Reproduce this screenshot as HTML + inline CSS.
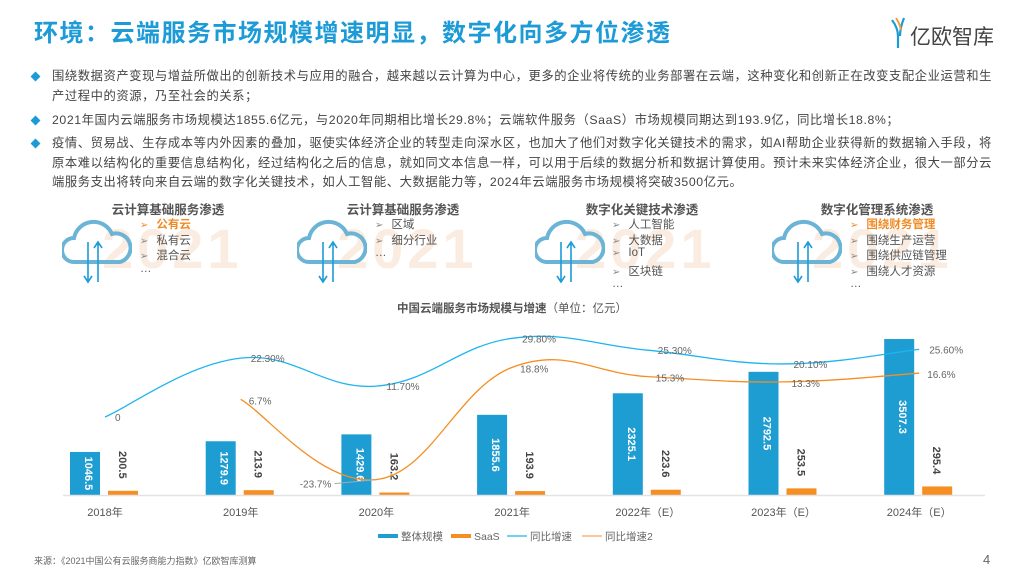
<!DOCTYPE html>
<html><head><meta charset="utf-8">
<style>
body{margin:0;width:1024px;height:576px;background:#fff;font-family:"Liberation Sans","Noto Sans CJK SC",sans-serif;overflow:hidden;position:relative}
.abs{position:absolute}
.title{left:34px;top:13px;font-size:24px;font-weight:bold;color:#1c9bd7;letter-spacing:1.5px}
.bul{left:36px;font-size:12.3px;color:#444;line-height:19.5px;width:966px;letter-spacing:0.58px}
.bul .d{position:absolute;left:-4px;top:6px;width:7px;height:7px;background:#1c9bd7;transform:rotate(45deg)}
.bul p{margin:0 0 0 16px}
.ptitle{font-size:12.5px;font-weight:bold;color:#555;transform:translateX(-50%);white-space:nowrap}
.item{font-size:11.5px;color:#555;white-space:nowrap}
.item b{font-weight:normal;color:#888;margin-right:8px;font-size:10px}
.wc{font-size:56px;font-weight:bold;color:#f3c9ab;opacity:.35;letter-spacing:4px}
</style></head><body>
<div class="abs title">环境：云端服务市场规模增速明显，数字化向多方位渗透</div>
<div class="abs" style="left:888px;top:14px;width:110px;height:36px">
<svg width="110" height="36"><path d="M4 6 Q10 14 10 22 L10 34 M16 4 Q12 14 12 22" stroke="#1c9bd7" stroke-width="2.2" fill="none"/><path d="M8 4 Q12 10 13 16" stroke="#f39a3b" stroke-width="2" fill="none"/><text x="22" y="30" font-size="21" fill="#444" font-family="Liberation Sans,Noto Sans CJK SC,sans-serif">亿欧智库</text></svg></div>

<div class="abs bul" style="top:67px"><span class="d"></span><p>围绕数据资产变现与增益所做出的创新技术与应用的融合，越来越以云计算为中心，更多的企业将传统的业务部署在云端，这种变化和创新正在改变支配企业运营和生产过程中的资源，乃至社会的关系；</p></div>
<div class="abs bul" style="top:111px"><span class="d"></span><p>2021年国内云端服务市场规模达1855.6亿元，与2020年同期相比增长29.8%；云端软件服务（SaaS）市场规模同期达到193.9亿，同比增长18.8%；</p></div>
<div class="abs bul" style="top:134px"><span class="d"></span><p>疫情、贸易战、生存成本等内外因素的叠加，驱使实体经济企业的转型走向深水区，也加大了他们对数字化关键技术的需求，如AI帮助企业获得新的数据输入手段，将原本难以结构化的重要信息结构化，经过结构化之后的信息，就如同文本信息一样，可以用于后续的数据分析和数据计算使用。预计未来实体经济企业，很大一部分云端服务支出将转向来自云端的数字化关键技术，如人工智能、大数据能力等，2024年云端服务市场规模将突破3500亿元。</p></div>

<div id="panels"></div>

<svg class="abs" style="left:0;top:0" width="1024" height="576" id="chart"></svg>

<div class="abs" style="left:34px;top:554px;font-size:9px;color:#666">来源：《2021中国公有云服务商能力指数》亿欧智库测算</div>
<div class="abs" style="left:983px;top:552px;font-size:13px;color:#666">4</div>

<script>
const panels=[
 {x:62,tc:168,ix:140,t:"云计算基础服务渗透",items:["公有云","私有云","混合云"],hl:0},
 {x:297,tc:403,ix:375,t:"云计算基础服务渗透",items:["区域","细分行业"],hl:-1},
 {x:535,tc:642,ix:612,t:"数字化关键技术渗透",items:["人工智能","大数据","IoT","区块链"],hl:-1},
 {x:772,tc:877,ix:850,t:"数字化管理系统渗透",items:["围绕财务管理","围绕生产运营","围绕供应链管理","围绕人才资源"],hl:0}];
const P=document.getElementById('panels');
panels.forEach((p,i)=>{
 let h=`<div class="abs wc" style="left:${p.x+40}px;top:216px">2021</div>`;
 h+=`<svg class="abs" style="left:${p.x}px;top:218px" width="70" height="70"><path d="M12 44 A12 12 0 0 1 12 20 A20 20 0 0 1 50 16 A14 14 0 0 1 58 44 Z" fill="none" stroke="#6bb4d6" stroke-width="4"/><path d="M26 24 V64 M22 58 L26 64 L30 58" stroke="#1c9bd7" stroke-width="1.6" fill="none"/><path d="M36 64 V24 M32 30 L36 24 L40 30" stroke="#1c9bd7" stroke-width="1.6" fill="none"/></svg>`;
 h+=`<div class="abs ptitle" style="left:${p.tc}px;top:199px">${p.t}</div>`;
 p.items.forEach((it,j)=>{h+=`<div class="abs item" style="left:${p.ix}px;top:${216+j*15.5}px;${j===p.hl?'color:#f08a24;font-weight:bold':''}"><b style="${j===p.hl?'color:#f08a24':''}">➢</b>${it}</div>`;});
 h+=`<div class="abs item" style="left:${p.ix}px;top:${216+p.items.length*15.5}px">…</div>`;
 const d=document.createElement('div');d.innerHTML=h;
 
 
 P.appendChild(d);
});

const categories=["2018年","2019年","2020年","2021年","2022年（E）","2023年（E）","2024年（E）"];
const totalValues=[1046.5,1279.9,1429.6,1855.6,2325.1,2792.5,3507.3];
const saasValues=[200.5,213.9,163.2,193.9,223.6,253.5,295.4];
const totalGrowth=[0,22.3,11.7,29.8,25.3,20.1,25.6];
const totalGrowthLabels=["0","22.30%","11.70%","29.80%","25.30%","20.10%","25.60%"];
const saasGrowth=[null,6.7,-23.7,18.8,15.3,13.3,16.6];
const saasGrowthLabels=["","6.7%","-23.7%","18.8%","15.3%","13.3%","16.6%"];

const NS="http://www.w3.org/2000/svg",S=document.getElementById('chart');
function el(t,a,txt){const e=document.createElementNS(NS,t);for(const k in a)e.setAttribute(k,a[k]);if(txt!=null)e.textContent=txt;S.appendChild(e);return e;}
const xC=i=>105+i*135.7;
const yBar=v=>500-0.0459*v;
const yPct=v=>417-2.64*v;
const base=495;
const F='"Liberation Sans","Noto Sans CJK SC",sans-serif';

let t=el('text',{x:512,y:312,'text-anchor':'middle','font-size':11.5,'font-weight':'bold',fill:'#555','font-family':F},'中国云端服务市场规模与增速');

let ts=document.createElementNS(NS,'tspan');ts.setAttribute('font-weight','normal');ts.textContent='（单位：亿元）';t.appendChild(ts);

categories.forEach((c,i)=>{
 const cx=xC(i);
 let b=el('rect',{x:cx-35,y:yBar(totalValues[i]),width:30,height:base-yBar(totalValues[i]),fill:'#1e9dd2'});
 
 
 let tb=el('text',{x:0,y:0,transform:`translate(${cx-20},${(yBar(totalValues[i])+base)/2}) rotate(90)`,'text-anchor':'middle','font-size':11,'font-weight':'bold',fill:'#fff','font-family':F},totalValues[i].toFixed(1));
 
 
 let o=el('rect',{x:cx+3,y:yBar(saasValues[i]),width:30,height:base-yBar(saasValues[i]),fill:'#f58f23'});
 
 
 let to=el('text',{x:0,y:0,transform:`translate(${cx+14},${yBar(saasValues[i])-26}) rotate(90)`,'text-anchor':'middle','font-size':11,'font-weight':'bold',fill:'#444','font-family':F},saasValues[i].toFixed(1));
 
 
 let xl=el('text',{x:cx,y:516,'text-anchor':'middle','font-size':11,fill:'#555','font-family':F},c);
 
 
});
let ax=el('line',{x1:63,x2:985,y1:495.5,y2:495.5,stroke:'#e3e3e3','stroke-width':1.5});


function smooth(pts){let d=`M${pts[0][0]},${pts[0][1]}`;for(let i=0;i<pts.length-1;i++){const p0=pts[i-1]||pts[i],p1=pts[i],p2=pts[i+1],p3=pts[i+2]||p2;const k=0.2;d+=` C${p1[0]+(p2[0]-p0[0])*k},${p1[1]+(p2[1]-p0[1])*k} ${p2[0]-(p3[0]-p1[0])*k},${p2[1]-(p3[1]-p1[1])*k} ${p2[0]},${p2[1]}`;}return d;}
const bp=totalGrowth.map((v,i)=>[xC(i),yPct(v)]);
let bl=el('path',{d:smooth(bp),fill:'none',stroke:'#1eb4f0','stroke-width':1.3});

const op=[];saasGrowth.forEach((v,i)=>{if(v!=null)op.push([xC(i),yPct(v)]);});
let ol=el('path',{d:smooth(op),fill:'none',stroke:'#f58f23','stroke-width':1.3});


totalGrowth.forEach((v,i)=>{
 let l=el('text',{x:xC(i)+10,y:yPct(v)+4,'font-size':10,fill:'#666','font-family':F},totalGrowthLabels[i]);
 
});
saasGrowth.forEach((v,i)=>{
 if(v==null)return;
 let x=xC(i)+8,y=yPct(v)+5,a='start';
 if(v<0){x=xC(i)-45;y=yPct(v)+8;a='end';el('line',{x1:xC(i)-42,y1:yPct(v)+4,x2:xC(i),y2:yPct(v),stroke:'#aaa','stroke-width':1});}
 let l=el('text',{x:x,y:y,'text-anchor':a,'font-size':10,fill:'#666','font-family':F},saasGrowthLabels[i]);
 
});

const leg=[["rect","#1e9dd2","整体规模",378],["rect","#f58f23","SaaS",451],["line","#1eb4f0","同比增速",507],["line","#f9a85a","同比增速2",582]];
leg.forEach(([k,c,n,x])=>{
 if(k==='rect')el('rect',{x:x,y:534,width:20,height:4,fill:c});else el('line',{x1:x,x2:x+20,y1:536,y2:536,stroke:c,'stroke-width':1.3});
 let l=el('text',{x:x+23,y:540,'font-size':10.5,fill:'#666','font-family':F},n);
 
});
</script>
</body></html>
